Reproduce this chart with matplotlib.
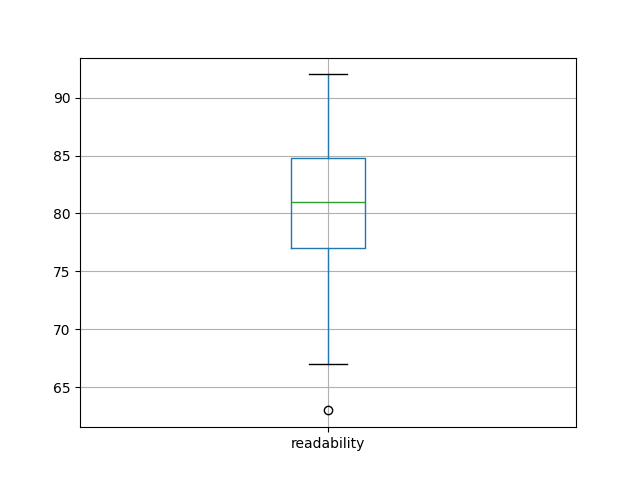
import pandas as pd
import matplotlib
matplotlib.use('Agg')
import matplotlib.pyplot as plt

# readability scores
readability = [63, 67, 72, 77, 77, 79, 80, 82, 83, 84, 85, 88, 90, 92]

df = pd.DataFrame({'readability': readability})

fig = plt.figure(figsize=(6.4, 4.8), dpi=100)
df.boxplot(column=['readability'])
plt.savefig('out.png')
